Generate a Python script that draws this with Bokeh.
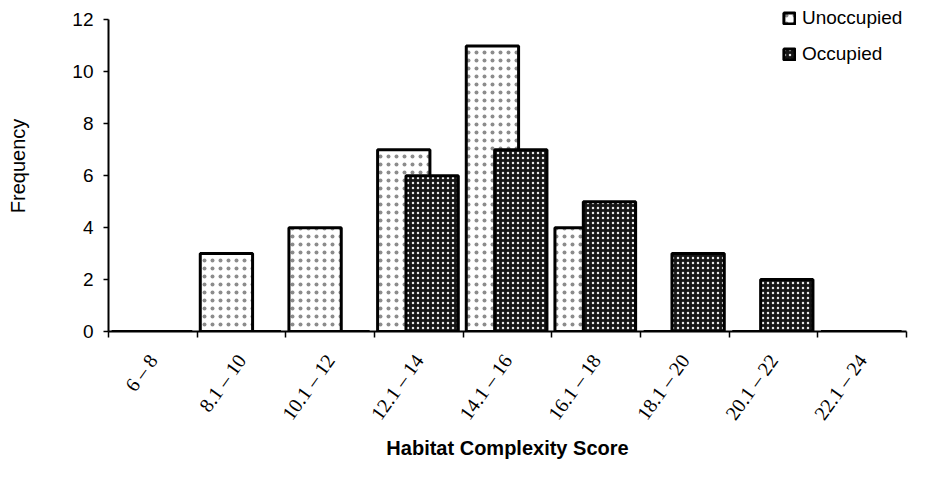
import numpy as np
from bokeh.plotting import figure
from bokeh.models import Range1d, FixedTicker, ColumnDataSource, Legend, LegendItem
from bokeh.transform import dodge
from bokeh.embed import file_html
from bokeh.resources import INLINE

categories = ["6 – 8", "8.1 – 10", "10.1 – 12", "12.1 – 14", "14.1 – 16",
              "16.1 – 18", "18.1 – 20", "20.1 – 22", "22.1 – 24"]
unoccupied = [0, 3, 4, 7, 11, 4, 0, 0, 0]
occupied = [0, 0, 0, 6, 7, 5, 3, 2, 0]
y_ticks = [0, 2, 4, 6, 8, 10, 12]
series_names = ["Unoccupied", "Occupied"]

positions = list(range(1, len(categories) + 1))
source = ColumnDataSource(dict(pos=positions, cat=categories, unocc=unoccupied, occ=occupied))

p = figure(width=910, height=462, output_backend="svg", toolbar_location=None,
           x_range=Range1d(0.5, len(categories) + 0.5), y_range=Range1d(0, 12.75),
           min_border_left=108, min_border_right=4, min_border_top=0, min_border_bottom=129)
p.outline_line_color = None
p.grid.visible = False
p.background_fill_color = "white"

r1 = p.vbar(x=dodge('pos', -0.17, range=p.x_range), top='unocc', width=0.59, source=source,
            fill_color="white", line_color="black", line_width=3,
            hatch_pattern="dot", hatch_color="black", hatch_scale=8, hatch_weight=1.2, hatch_alpha=0.45)
r2 = p.vbar(x=dodge('pos', 0.15, range=p.x_range), top='occ', width=0.59, source=source,
            fill_color="#161616", line_color="black", line_width=3,
            hatch_pattern="dot", hatch_color="white", hatch_scale=5, hatch_weight=1.4, hatch_alpha=0.9)

legend = Legend(items=[LegendItem(label=series_names[0], renderers=[r1]),
                       LegendItem(label=series_names[1], renderers=[r2])],
                location=(674, 266), border_line_color=None, background_fill_alpha=0,
                padding=0, margin=0, spacing=14, glyph_width=14, glyph_height=14,
                label_height=20, label_standoff=6, label_text_font="Liberation Sans",
                label_text_font_size="19px", label_text_color="black")
p.add_layout(legend)

xa = p.xaxis[0]
xa.ticker = FixedTicker(ticks=positions, minor_ticks=[i + 0.5 for i in range(0, len(categories) + 1)])
xa.major_label_overrides = {i: c for i, c in zip(positions, categories)}
xa.major_tick_line_color = None
xa.major_tick_out = 0
xa.major_tick_in = 0
xa.minor_tick_out = 6
xa.minor_tick_in = 0
xa.minor_tick_line_color = "black"
xa.minor_tick_line_width = 1.5
xa.major_label_orientation = 0.95
xa.major_label_standoff = 19
xa.major_label_text_font = "Liberation Serif"
xa.major_label_text_font_size = "20px"
xa.major_label_text_color = "black"
xa.axis_line_width = 2
xa.axis_line_color = "black"
xa.axis_label = "Habitat Complexity Score"
xa.axis_label_text_font = "Liberation Sans"
xa.axis_label_text_font_size = "20px"
xa.axis_label_text_font_style = "bold"
xa.axis_label_text_color = "black"
xa.axis_label_standoff = 4

ya = p.yaxis[0]
ya.bounds = (0, 12)
ya.ticker = FixedTicker(ticks=y_ticks, minor_ticks=[])
ya.major_tick_out = 5
ya.major_tick_in = 0
ya.major_tick_line_width = 1.5
ya.major_tick_line_color = "black"
ya.major_label_standoff = 10
ya.major_label_text_font = "Liberation Sans"
ya.major_label_text_font_size = "19px"
ya.major_label_text_color = "black"
ya.axis_line_width = 2
ya.axis_line_color = "black"
ya.axis_label = "Frequency"
ya.axis_label_text_font = "Liberation Sans"
ya.axis_label_text_font_size = "20px"
ya.axis_label_text_font_style = "normal"
ya.axis_label_text_color = "black"
ya.axis_label_standoff = 40

open("out.html", "w").write(file_html(p, INLINE))
